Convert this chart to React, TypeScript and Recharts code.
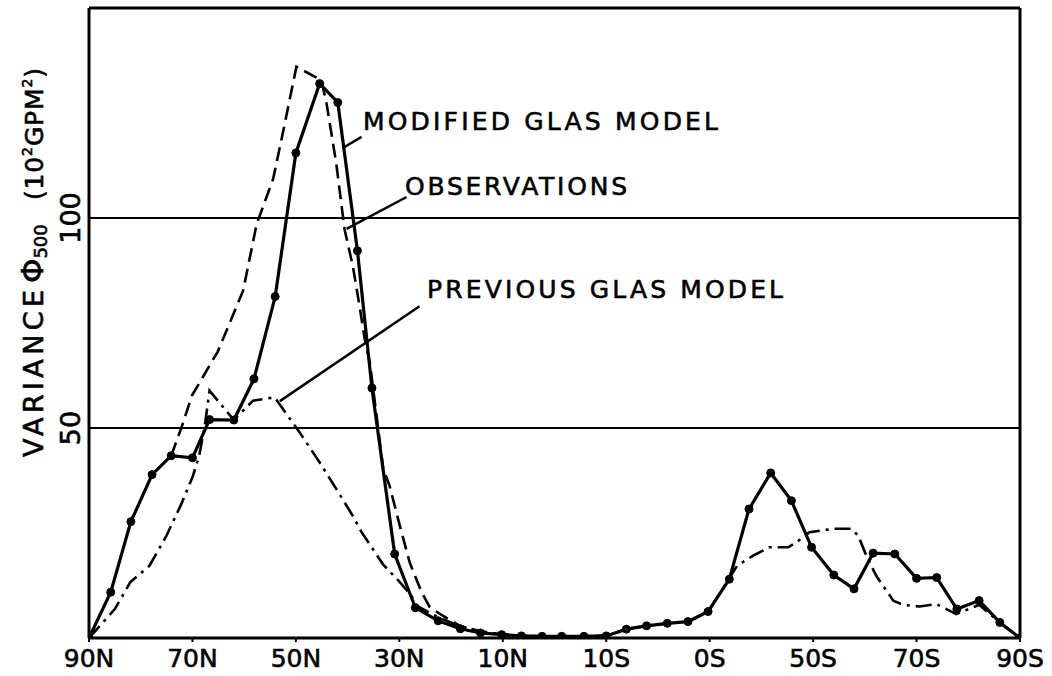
import { LineChart, Line, XAxis, YAxis, ReferenceLine } from "recharts";

// latitude axis (90N -> 90S), labels as printed
const latTicks = [90, 70, 50, 30, 10, -10, -30, -50, -70, -90];
const latLabels = ["90N", "70N", "50N", "30N", "10N", "10S", "0S", "50S", "70S", "90S"];
const varTicks = [50, 100];

// modified GLAS model (solid, dots)
const modifiedLat = [
  90, 85.8, 81.9, 77.8, 74.1, 70, 66.7, 62, 58.1, 54, 50, 45.4, 41.9, 38.1, 35.3, 30.9,
  26.9, 22.5, 18.2, 14.3, 10.2, 6.4, 2.4, -1.4, -5.7, -10, -13.9, -17.8, -21.8, -25.8,
  -29.7, -33.8, -37.6, -41.8, -45.8, -49.7, -54, -57.9, -61.6, -65.8, -70, -73.9, -77.8,
  -82.1, -86.1, -90,
];
const modifiedVar = [
  0, 10.9, 27.7, 38.9, 43.4, 42.9, 52, 51.9, 61.7, 81.3, 115.5, 132, 127.5, 92.2, 59.5, 20,
  7.2, 4.1, 2.2, 1.2, 0.8, 0.5, 0.4, 0.4, 0.4, 0.5, 2.1, 2.9, 3.5, 3.9,
  6.3, 14, 30.7, 39.3, 32.7, 21.6, 15, 11.7, 20.2, 20, 14.2, 14.4, 6.9,
  8.9, 3.7, 0,
];

// observations (dashed)
const obsLat = [
  74.1, 72.1, 70.1, 65.1, 60.2, 57.6, 54.4, 52.5, 49.9, 45.1, 44.1, 42.2, 40.6, 39, 37.7,
  36.7, 35.7, 33.1, 31.9, 29.9, 28, 25.7, 24.1, 21.6, 18.3, 14.4, 10.2, 6.4, 2.4, -1.4, -5.7, -10,
];
const obsVar = [
  43.4, 50.2, 57.7, 68.2, 82.7, 98.5, 109.3, 120.4, 136, 132.8, 127.5, 113, 97.4, 88.6, 79.1,
  71.2, 65.6, 40.2, 36.3, 26.7, 18, 10.9, 7.3, 5.3, 2.9, 1.6, 0.9, 0.5, 0.4, 0.4, 0.4, 0.5,
];

// previous GLAS model (dash-dot)
const prevLat = [
  90, 85, 82, 78.3, 75, 72, 69.9, 68.7, 67.6, 66.7, 62, 58.3, 54.1, 49.3, 45.4, 42.2, 39,
  37.3, 33.2, 29.9, 27.7, 26.7, 22.6, 18.3, 14, 10, 6, 2, -2, -6, -10, -13.9, -17.8, -21.8,
  -25.8, -29.7, -33.8, -35.3, -38.4, -41.6, -45.2, -46.8, -49.3, -53.9, -57.4, -58.7, -60.3,
  -62.2, -65.5, -67.4, -70.6, -73.8, -77.7, -82.1, -86.1, -90,
];
const prevVar = [
  0, 6.9, 13.3, 17.2, 24.4, 32.3, 38.6, 43.4, 50.6, 58.9, 51.9, 56.5, 57.3, 49, 41.8, 35.5, 29.1,
  25.2, 17.6, 13.3, 10.1, 7.7, 5, 2.8, 1.5, 0.8, 0.5, 0.4, 0.4, 0.4, 0.5, 2.1, 2.9, 3.5,
  3.9, 6.3, 14.2, 17.2, 19.6, 21.6, 21.6, 22.8, 25.2, 26, 26, 24.4, 19.6,
  14.8, 8.9, 7.9, 7.5, 8.1, 5.7, 7.9, 3.7, 0,
];

// label leader lines [lat1, var1, lat2, var2]
const leaders = [
  [40.6, 116.9, 37.3, 119.3],
  [40.2, 97.4, 28.6, 105],
  [53.1, 56.4, 26.1, 79],
];

const rows = (lat: number[], v: number[]) => lat.map((l, i) => ({ lat: l, v: v[i] }));

const FONT = "DejaVu Sans, Verdana, sans-serif";
// slight outline so the lettering looks as heavy as the printed one
const ink = { fill: "#000", stroke: "#000", strokeWidth: 0.6 };

function LatTick({ x, y, payload }: any) {
  const label = latLabels[latTicks.indexOf(payload.value)];
  return (
    <text x={x} y={y + 25} textAnchor="middle" fontSize={25} fontFamily={FONT} {...ink}>
      {label}
    </text>
  );
}

function VarTick({ x, y, payload }: any) {
  return (
    <text
      x={x}
      y={y}
      transform={`rotate(-90 ${x} ${y})`}
      textAnchor="middle"
      fontSize={27}
      fontFamily={FONT}
      {...ink}
    >
      {payload.value}
    </text>
  );
}

export default function App() {
  return (
    <div style={{ position: "absolute", left: 0, top: 0, width: 1052, height: 676, background: "#fff" }}>
      <LineChart width={1052} height={676} data={rows(modifiedLat, modifiedVar)} margin={{ top: 8, right: 32, bottom: 0, left: 0 }}>
        <XAxis
          dataKey="lat"
          type="number"
          domain={[-90, 90]}
          reversed
          ticks={latTicks}
          tick={<LatTick />}
          height={38}
          tickSize={4}
          tickMargin={0}
          axisLine={{ stroke: "#000", strokeWidth: 3 }}
          tickLine={{ stroke: "#000", strokeWidth: 2 }}
          allowDataOverflow
        />
        <YAxis
          type="number"
          domain={[0, 150]}
          ticks={varTicks}
          tick={<VarTick />}
          width={89}
          tickSize={0}
          tickMargin={9}
          tickLine={false}
          axisLine={{ stroke: "#000", strokeWidth: 3 }}
          allowDataOverflow
        />
        <ReferenceLine y={150} stroke="#000" strokeWidth={3} />
        <ReferenceLine x={-90} stroke="#000" strokeWidth={3} />
        <ReferenceLine y={100} stroke="#000" strokeWidth={2} />
        <ReferenceLine y={50} stroke="#000" strokeWidth={2} />
        {leaders.map((s, i) => (
          <ReferenceLine
            key={i}
            segment={[{ x: s[0], y: s[1] }, { x: s[2], y: s[3] }]}
            stroke="#000"
            strokeWidth={2.5}
          />
        ))}
        <Line
          data={rows(prevLat, prevVar)}
          dataKey="v"
          type="linear"
          stroke="#000"
          strokeWidth={2.6}
          strokeDasharray="16 6 3 6"
          dot={false}
          isAnimationActive={false}
        />
        <Line
          data={rows(obsLat, obsVar)}
          dataKey="v"
          type="linear"
          stroke="#000"
          strokeWidth={2.6}
          strokeDasharray="14 7"
          dot={false}
          isAnimationActive={false}
        />
        <Line
          dataKey="v"
          type="linear"
          stroke="#000"
          strokeWidth={3.2}
          dot={{ r: 4, fill: "#000", stroke: "#000", strokeWidth: 1 }}
          isAnimationActive={false}
        />
      </LineChart>
      <svg
        width={1052}
        height={676}
        style={{ position: "absolute", left: 0, top: 0, pointerEvents: "none" }}
        fontFamily={FONT}
        {...ink}
      >
        <text x={363} y={130} fontSize={25} textLength={355} lengthAdjust="spacing">MODIFIED GLAS MODEL</text>
        <text x={405} y={195} fontSize={25} textLength={222} lengthAdjust="spacing">OBSERVATIONS</text>
        <text x={427} y={298} fontSize={25} textLength={356} lengthAdjust="spacing">PREVIOUS GLAS MODEL</text>
        <g transform="rotate(-90 43 457)">
          <text x={43} y={457} fontSize={27} textLength={167} lengthAdjust="spacing">VARIANCE</text>
          <text x={43 + 174} y={457} fontSize={31}>
            Φ<tspan fontSize={18} dy={4}>500</tspan>
          </text>
          <text x={43 + 257} y={457} fontSize={25} textLength={132} lengthAdjust="spacing">
            (10<tspan fontSize={14} dy={-11}>2</tspan><tspan dy={11}>GPM</tspan><tspan fontSize={14} dy={-11}>2</tspan><tspan dy={11}>)</tspan>
          </text>
        </g>
      </svg>
    </div>
  );
}
